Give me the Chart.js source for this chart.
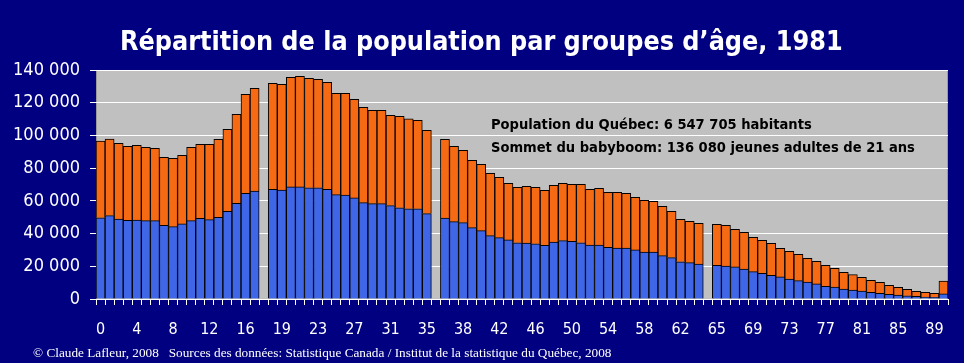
<!DOCTYPE html>
<html><head><meta charset="utf-8">
<script src="https://cdn.jsdelivr.net/npm/chart.js@4/dist/chart.umd.min.js"></script>
<style>html,body{margin:0;padding:0;background:#000080;}#wrap{width:964px;height:363px;}</style>
</head><body><div id="wrap"><canvas id="c" width="964" height="363"></canvas></div>
<script>
// Categories: ages 0..90, with empty slots ('') marking the gaps in the original
const ages = ['0','1','2','3','4','5','6','7','8','9','10','11','12','13','14','15','16','17','',
 '18','19','20','21','22','23','24','25','26','27','28','29','30','31','32','33','34','35','',
 '36','37','38','39','40','41','42','43','44','45','46','47','48','49','50','51','52','53','54','55','56','57','58','59','60','61','62','63','64','',
 '65','66','67','68','69','70','71','72','73','74','75','76','77','78','79','80','81','82','83','84','85','86','87','88','89','90'];
// Blue (lower) series
const bleu = [49700,51000,48900,48100,48300,47900,47900,45000,44200,45900,47900,49300,48500,49900,53600,58500,64600,66000,null,
 67000,66600,68500,68500,68000,68000,67000,63800,63600,61800,58900,58300,58300,57100,55800,55200,55200,52200,null,
 49500,47300,46700,43600,41800,38700,37500,36100,34400,34200,33800,32800,34800,35700,35300,34400,33000,33000,31600,31200,31200,30000,28700,28700,26500,25300,22800,22200,21400,null,
 20600,20200,19600,18300,16700,15700,14500,13500,12200,11200,10400,9200,7700,7300,6100,5500,4900,4100,3500,2900,2400,2000,1600,1200,1000,3100];
// Orange (upper) series
const orange = [46900,46800,46300,45200,45600,44800,44200,41600,41800,41900,44800,45300,46100,47700,50100,54400,60500,62800,null,
 64900,64600,67000,67600,66900,66300,65500,61900,62100,60300,58300,57100,57100,55200,55900,54900,54000,50900,null,
 48100,46000,44200,41200,40500,38100,36900,34600,33900,34700,34500,33600,34700,35000,34800,35700,34000,34700,33600,34000,33400,32200,31600,31000,30200,28300,25900,25300,24900,null,
 25000,24800,23000,22500,21000,20200,19500,17500,16900,16100,14500,13800,12900,11400,10200,9400,8300,7300,6700,5500,4700,3900,3100,2900,2500,7900];
const yTicks = [0,20000,40000,60000,80000,100000,120000,140000];
const titre = 'Répartition de la population par groupes d\u2019âge, 1981';
const note1 = 'Population du Québec: 6 547 705 habitants';
const note2 = 'Sommet du babyboom: 136 080 jeunes adultes de 21 ans';
const source = '© Claude Lafleur, 2008   Sources des données: Statistique Canada / Institut de la statistique du Québec, 2008';

function fitFont(ctx, text, weight, family, targetW) {
  ctx.font = weight + ' 100px ' + family;
  const w = ctx.measureText(text).width;
  return weight + ' ' + (100 * targetW / w).toFixed(2) + 'px ' + family;
}

const decor = {
  id: 'decor',
  beforeDraw(chart) {
    const {ctx, chartArea: a} = chart;
    ctx.save();
    ctx.fillStyle = '#000080';
    ctx.fillRect(0, 0, chart.width, chart.height);
    ctx.fillStyle = '#C0C0C0';
    ctx.fillRect(a.left, a.top, a.right - a.left, a.bottom - a.top);
    ctx.strokeStyle = '#9a9a9a';
    ctx.lineWidth = 1;
    ctx.strokeRect(a.left + 0.5, a.top + 0.5, a.right - a.left - 1, a.bottom - a.top);
    ctx.restore();
  },
  afterDraw(chart) {
    const {ctx, chartArea: a} = chart;
    ctx.save();
    ctx.fillStyle = '#FFFFFF';
    ctx.textBaseline = 'alphabetic';
    ctx.textAlign = 'left';
    ctx.font = fitFont(ctx, titre, 'bold', '"DejaVu Sans Condensed", "DejaVu Sans", sans-serif', 723);
    ctx.fillText(titre, 120, 50);
    ctx.font = fitFont(ctx, source, 'normal', '"Liberation Serif", "DejaVu Serif", serif', 579);
    ctx.fillText(source, 33, 357);
    ctx.fillStyle = '#000000';
    const x0 = a.left + (a.right - a.left) * 0.4636;
    ctx.font = fitFont(ctx, note2, 'bold', '"DejaVu Sans Condensed", "DejaVu Sans", sans-serif', 424);
    ctx.fillText(note1, x0, a.top + (a.bottom - a.top) * 0.2598);
    ctx.fillText(note2, x0, a.top + (a.bottom - a.top) * 0.3581);
    ctx.restore();
  }
};

new Chart(document.getElementById('c'), {
  type: 'bar',
  data: {
    labels: ages,
    datasets: [
      {label: 'bleu', data: bleu, backgroundColor: '#3F66E6', borderColor: '#000000', borderWidth: 1, barPercentage: 1, categoryPercentage: 1},
      {label: 'orange', data: orange, backgroundColor: '#F76A14', borderColor: '#000000', borderWidth: 1, barPercentage: 1, categoryPercentage: 1}
    ]
  },
  options: {
    responsive: false,
    animation: false,
    events: [],
    layout: {padding: {left: 0, right: 16, top: 70, bottom: 0}},
    plugins: {legend: {display: false}, tooltip: {enabled: false}, title: {display: false}},
    scales: {
      x: {
        stacked: true,
        grid: {offset: true, drawOnChartArea: false, color: '#FFFFFF', tickLength: 6, tickColor: '#FFFFFF'},
        border: {display: false},
        ticks: {
          autoSkip: false, maxRotation: 0, minRotation: 0, color: '#FFFFFF', padding: 15,
          font: {family: '"DejaVu Sans Condensed", "DejaVu Sans", sans-serif', size: 16},
          callback: function(v, i) { return i % 4 === 0 ? ages[i] : ''; }
        },
        afterFit: function(s) { s.height = 64; }
      },
      y: {
        stacked: true,
        min: 0, max: 140000,
        afterBuildTicks: function(s) { s.ticks = yTicks.map(v => ({value: v})); },
        grid: {color: '#FFFFFF', lineWidth: 1, tickLength: 6, tickColor: '#FFFFFF', drawOnChartArea: true},
        border: {display: false},
        ticks: {
          color: '#FFFFFF', padding: 10,
          font: {family: '"DejaVu Sans Condensed", "DejaVu Sans", sans-serif', size: 18},
          callback: function(v) { return String(v).replace(/\B(?=(\d{3})+(?!\d))/g, ' '); }
        },
        afterFit: function(s) { s.width = 96; }
      }
    }
  },
  plugins: [decor]
});
</script></body></html>
